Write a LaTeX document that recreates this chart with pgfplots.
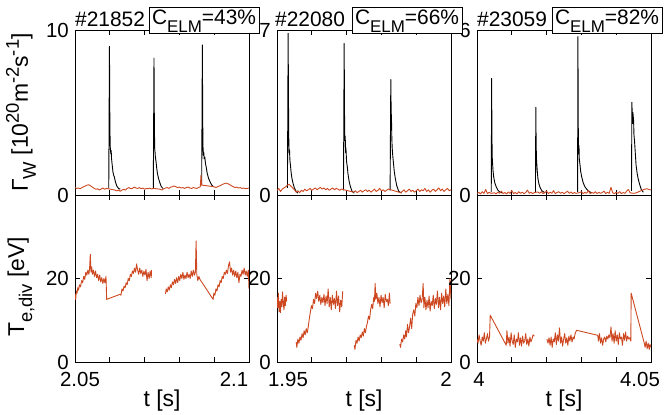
\documentclass[border=0pt]{standalone}
\usepackage{fontspec}
\setmainfont{Liberation Sans}
\usepackage{pgfplots}
\pgfplotsset{compat=1.18}
\definecolor{tered}{RGB}{205,72,32}
\newcommand{\sub}[1]{\raisebox{-8bp}{\fontsize{18.5}{18.5}\selectfont #1}}
\newcommand{\subb}[1]{\raisebox{-8bp}{\fontsize{17}{17}\selectfont #1}}
\newcommand{\sups}[1]{\raisebox{9bp}{\fontsize{18.5}{18.5}\selectfont #1}}
\pgfplotsset{
  myax/.style={scale only axis, width=174bp, anchor=south west,
    axis line style={line width=0.8bp},
    every tick/.style={black, line width=0.8bp},
    major tick length=5bp,
    /pgf/number format/assume math mode=true,
    tick label style={font=\fontsize{20.5}{22}\selectfont},
    yticklabel style={inner sep=0pt, xshift=-6bp},
    label style={font=\fontsize{23}{25}\selectfont},
    ymin=0},
  topax/.style={myax, height=165bp, xticklabels={}},
  botax/.style={myax, height=167bp, ymax=40, ytick={0,20},
    xticklabel style={inner sep=0pt, yshift=-10bp},
    xlabel={t [s]}, xlabel style={at={(axis description cs:0.5,0)}, anchor=center, yshift=-39bp}},
  blk/.style={black, line width=0.9bp, mark=none, line join=round},
  trd/.style={tered, line width=0.9bp, mark=none, line join=round},
}
\begin{document}
\begin{tikzpicture}[font=\fontsize{21}{23}\selectfont]
\path[use as bounding box] (0,0) rectangle (667bp,415bp);
% ---------------- Panel 1 top
\begin{axis}[topax, at={(75bp,220bp)}, xmin=2.05, xmax=2.1, ymax=10, ytick={0,10},
  xtick={2.05,2.06,2.07,2.08,2.09,2.1},
  ylabel={Γ\sub{W} [10\sups{20}m\sups{-2}s\sups{-1}]},
  ylabel style={at={(axis description cs:-0.31,0.5)}, anchor=center}]
\addplot[blk] coordinates {(2.0597,0.40)(2.0599,9.0)(2.0600,5.0)(2.0601,3.0)(2.0602,2.7)(2.0603,2.5)(2.0604,2.7)(2.0605,2.2)(2.0607,1.8)(2.0609,1.4)(2.0611,1.2)(2.0613,1.1)(2.0616,0.8)(2.0620,0.55)(2.0625,0.40)(2.0630,0.35)};
\addplot[blk] coordinates {(2.0725,0.40)(2.0727,8.3)(2.0728,4.5)(2.0729,2.8)(2.0730,2.6)(2.0731,2.3)(2.0733,2.0)(2.0735,1.6)(2.0737,1.3)(2.0740,1.0)(2.0743,0.8)(2.0747,0.55)(2.0752,0.40)};
\addplot[blk] coordinates {(2.0864,0.6)(2.0866,9.1)(2.0867,4.5)(2.0868,2.8)(2.0869,2.4)(2.0870,2.6)(2.0871,2.2)(2.0873,2.3)(2.0875,1.9)(2.0877,1.7)(2.0880,1.3)(2.0884,1.0)(2.0888,0.8)(2.0893,0.6)(2.0898,0.5)};
\addplot[trd] coordinates {(2.0500,0.45)(2.0505,0.40)(2.0510,0.42)(2.0515,0.38)(2.0520,0.45)(2.0525,0.50)(2.0530,0.55)(2.0535,0.60)(2.0540,0.62)(2.0545,0.55)(2.0550,0.48)(2.0555,0.40)(2.0560,0.35)(2.0565,0.38)(2.0570,0.30)(2.0575,0.36)(2.0580,0.42)(2.0585,0.35)(2.0590,0.40)(2.0595,0.38)
(2.0615,0.30)(2.0620,0.25)(2.0625,0.30)(2.0630,0.22)(2.0635,0.30)(2.0640,0.35)(2.0645,0.30)(2.0650,0.40)(2.0655,0.45)(2.0660,0.38)(2.0665,0.40)(2.0670,0.48)(2.0675,0.42)(2.0680,0.40)(2.0685,0.45)(2.0690,0.38)(2.0695,0.42)(2.0700,0.35)(2.0705,0.40)(2.0710,0.38)(2.0715,0.42)(2.0720,0.36)(2.0725,0.40)
(2.0745,0.35)(2.0750,0.30)(2.0755,0.38)(2.0760,0.42)(2.0765,0.45)(2.0770,0.40)(2.0775,0.48)(2.0780,0.50)(2.0785,0.55)(2.0790,0.50)(2.0795,0.45)(2.0800,0.48)(2.0805,0.42)(2.0810,0.45)(2.0815,0.40)(2.0820,0.45)(2.0825,0.48)(2.0830,0.42)(2.0835,0.40)(2.0840,0.45)(2.0845,0.42)(2.0850,0.40)(2.0855,0.45)(2.0860,0.50)(2.0862,1.2)(2.0864,0.6)
(2.0900,0.50)(2.0905,0.45)(2.0910,0.50)(2.0915,0.55)(2.0920,0.60)(2.0925,0.65)(2.0930,0.70)(2.0935,0.72)(2.0940,0.68)(2.0945,0.62)(2.0950,0.55)(2.0955,0.50)(2.0960,0.45)(2.0965,0.48)(2.0970,0.42)(2.0975,0.45)(2.0980,0.40)(2.0985,0.42)(2.0990,0.38)(2.0995,0.40)(2.1000,0.42)};
\end{axis}
% ---------------- Panel 1 bottom
\begin{axis}[botax, at={(75bp,53bp)}, xmin=2.05, xmax=2.1,
  xtick={2.05,2.06,2.07,2.08,2.09,2.1}, xticklabels={\hspace*{10bp}2.05,{},{},{},{},2.1\hspace*{30bp}},
  ylabel={T\sub{e,div} [eV]},
  ylabel style={at={(axis description cs:-0.31,0.45)}, anchor=center}]
\addplot[trd] coordinates {(2.0500,16.2)(2.0502,15.0)(2.0504,17.0)(2.0506,16.5)(2.0508,17.8)(2.0510,17.2)(2.0513,18.5)(2.0516,18.0)(2.0519,19.5)(2.0522,19.0)(2.0525,20.5)(2.0528,19.8)(2.0531,21.5)(2.0534,20.8)(2.0537,22.0)(2.0540,21.0)(2.0542,22.5)(2.0544,25.8)(2.0546,21.5)(2.0548,22.8)(2.0550,21.0)(2.0553,22.0)(2.0556,20.5)(2.0559,21.8)(2.0562,20.2)(2.0565,21.0)(2.0568,19.5)(2.0571,20.8)(2.0574,19.2)(2.0577,20.2)(2.0580,18.8)(2.0583,20.0)(2.0586,19.0)(2.0589,20.5)(2.0591,15.0)
(2.0629,16.2)(2.0632,16.0)(2.0635,17.5)(2.0638,17.0)(2.0641,18.2)(2.0644,17.8)(2.0647,19.0)(2.0650,18.5)(2.0653,20.0)(2.0656,19.5)(2.0659,21.0)(2.0662,20.5)(2.0665,21.8)(2.0668,21.2)(2.0671,22.5)(2.0674,21.5)(2.0677,23.5)(2.0680,22.0)(2.0683,21.0)(2.0686,22.5)(2.0689,21.2)(2.0692,22.0)(2.0695,20.5)(2.0698,21.8)(2.0701,20.8)(2.0704,22.2)(2.0707,19.5)(2.0710,21.5)(2.0713,20.0)(2.0716,21.8)(2.0719,20.2)(2.0720,22.0)};
\addplot[trd] coordinates {(2.0760,16.3)(2.0762,17.5)(2.0765,16.8)(2.0768,18.0)(2.0771,17.2)(2.0774,18.5)(2.0777,17.8)(2.0780,19.2)(2.0783,18.5)(2.0786,19.8)(2.0789,18.8)(2.0792,20.2)(2.0795,19.0)(2.0798,20.5)(2.0801,19.5)(2.0804,21.0)(2.0807,20.0)(2.0810,21.5)(2.0813,19.8)(2.0816,20.8)(2.0819,20.0)(2.0822,21.5)(2.0825,20.2)(2.0828,21.0)(2.0831,20.0)(2.0834,21.8)(2.0837,20.5)(2.0840,22.0)(2.0843,20.8)(2.0846,21.5)(2.0848,29.0)(2.0850,21.0)(2.0853,19.5)(2.0856,20.5)(2.0859,19.8)
(2.0897,15.0)(2.0899,16.5)(2.0902,16.0)(2.0905,17.5)(2.0908,17.0)(2.0911,18.5)(2.0914,18.0)(2.0917,19.5)(2.0920,19.0)(2.0923,20.5)(2.0926,20.0)(2.0929,21.5)(2.0932,21.0)(2.0935,22.0)(2.0938,21.2)(2.0941,23.0)(2.0944,24.0)(2.0947,21.5)(2.0950,22.5)(2.0953,20.8)(2.0956,22.0)(2.0959,20.5)(2.0962,21.8)(2.0965,20.2)(2.0968,21.5)(2.0971,19.0)(2.0974,21.0)(2.0977,20.5)(2.0980,22.0)(2.0983,21.0)(2.0986,22.5)(2.0989,20.8)(2.0992,21.8)(2.0995,20.5)(2.0998,22.0)(2.1000,17.5)};
\end{axis}
% ---------------- Panel 2 top
\begin{axis}[topax, at={(277bp,220bp)}, xmin=1.95, xmax=2.0, ymax=7, ytick={0,7},
  xtick={1.95,1.96,1.97,1.98,1.99,2.0}]
\addplot[blk] coordinates {(1.9530,0.3)(1.9532,6.86)(1.9533,4.0)(1.9534,2.2)(1.9535,1.8)(1.9536,1.9)(1.9537,1.5)(1.9539,1.2)(1.9541,0.9)(1.9543,0.7)(1.9546,0.5)(1.9550,0.3)(1.9555,0.15)(1.9560,0.08)};
\addplot[blk] coordinates {(1.9691,0.2)(1.9693,6.43)(1.9694,3.5)(1.9695,2.3)(1.9696,2.5)(1.9697,1.8)(1.9698,2.0)(1.9700,1.4)(1.9702,1.2)(1.9704,0.9)(1.9707,0.6)(1.9711,0.35)(1.9716,0.15)(1.9722,0.08)};
\addplot[blk] coordinates {(1.9825,0.2)(1.9827,4.9)(1.9828,3.6)(1.9829,3.2)(1.9830,2.4)(1.9831,2.0)(1.9833,1.6)(1.9835,1.3)(1.9837,1.0)(1.9840,0.7)(1.9844,0.4)(1.9850,0.15)(1.9858,0.08)};
\addplot[trd] coordinates {(1.9500,0.20)(1.9505,0.28)(1.9510,0.15)(1.9515,0.25)(1.9520,0.30)(1.9525,0.35)(1.9530,0.42)(1.9535,0.45)(1.9540,0.38)(1.9545,0.30)(1.9550,0.22)(1.9555,0.12)(1.9560,0.18)(1.9565,0.10)(1.9570,0.20)(1.9575,0.15)(1.9580,0.25)(1.9585,0.18)(1.9590,0.22)(1.9595,0.28)(1.9600,0.20)(1.9605,0.25)(1.9610,0.30)(1.9615,0.22)(1.9620,0.28)(1.9625,0.32)(1.9630,0.25)(1.9635,0.30)(1.9640,0.22)(1.9645,0.28)(1.9650,0.20)(1.9655,0.25)(1.9660,0.30)(1.9665,0.22)(1.9670,0.28)(1.9675,0.25)(1.9680,0.20)(1.9685,0.25)
(1.9720,0.12)(1.9725,0.18)(1.9730,0.10)(1.9735,0.15)(1.9740,0.20)(1.9745,0.12)(1.9750,0.18)(1.9755,0.22)(1.9760,0.15)(1.9765,0.20)(1.9770,0.12)(1.9775,0.18)(1.9780,0.25)(1.9785,0.15)(1.9790,0.20)(1.9795,0.28)(1.9800,0.18)(1.9805,0.22)(1.9810,0.15)(1.9815,0.20)(1.9820,0.25)
(1.9855,0.10)(1.9860,0.15)(1.9865,0.22)(1.9870,0.12)(1.9875,0.18)(1.9880,0.25)(1.9885,0.15)(1.9890,0.20)(1.9895,0.12)(1.9900,0.18)(1.9905,0.25)(1.9910,0.15)(1.9915,0.22)(1.9920,0.18)(1.9925,0.28)(1.9930,0.15)(1.9935,0.22)(1.9940,0.12)(1.9945,0.20)(1.9950,0.25)(1.9955,0.15)(1.9960,0.22)(1.9965,0.30)(1.9970,0.18)(1.9975,0.25)(1.9980,0.15)(1.9985,0.22)(1.9990,0.28)(1.9995,0.18)(2.0000,0.22)};
\end{axis}
% ---------------- Panel 2 bottom
\begin{axis}[botax, at={(277bp,53bp)}, xmin=1.95, xmax=2.0,
  xtick={1.95,1.96,1.97,1.98,1.99,2.0}, xticklabels={\hspace*{22bp}1.95,{},{},{},{},2\hspace*{10bp}}]
\addplot[trd] coordinates {(1.9500,15.5)(1.9502,13.0)(1.9504,16.5)(1.9506,12.0)(1.9508,14.5)(1.9510,11.8)(1.9512,15.0)(1.9514,13.2)(1.9516,16.8)(1.9518,14.0)(1.9520,12.5)(1.9522,15.5)(1.9524,13.5)(1.9526,16.0)(1.9528,14.5)};
\addplot[trd] coordinates {(1.9555,4.8)(1.9557,3.5)(1.9560,5.5)(1.9563,4.5)(1.9566,6.0)(1.9569,5.2)(1.9572,6.8)(1.9575,5.8)(1.9578,7.5)(1.9581,6.5)(1.9584,8.0)(1.9587,7.0)(1.9590,8.5)(1.9593,10.5)(1.9596,12.0)(1.9599,13.5)(1.9602,12.8)(1.9605,15.0)(1.9608,14.0)(1.9611,16.5)(1.9614,15.2)(1.9617,17.0)(1.9620,14.5)(1.9623,16.0)(1.9626,13.8)(1.9629,15.5)(1.9632,14.2)(1.9635,16.2)(1.9638,13.5)(1.9641,15.8)(1.9644,14.0)(1.9647,17.5)(1.9650,13.2)(1.9653,15.5)(1.9656,12.5)(1.9659,16.0)(1.9662,13.8)(1.9665,15.2)(1.9668,12.8)(1.9671,17.0)(1.9674,13.5)(1.9677,15.8)(1.9680,12.0)(1.9683,14.8)(1.9686,13.2)(1.9689,17.0)};
\addplot[trd] coordinates {(1.9722,4.0)(1.9724,3.0)(1.9727,5.2)(1.9730,4.5)(1.9733,6.0)(1.9736,5.0)(1.9739,6.5)(1.9742,5.8)(1.9745,7.2)(1.9748,6.2)(1.9751,8.0)(1.9754,7.0)(1.9757,8.5)(1.9760,9.5)(1.9763,11.0)(1.9766,10.2)(1.9769,12.5)(1.9772,13.8)(1.9775,12.8)(1.9778,15.5)(1.9780,14.5)(1.9782,18.8)(1.9784,15.0)(1.9787,16.5)(1.9790,14.0)(1.9793,15.5)(1.9796,13.2)(1.9799,16.0)(1.9802,14.2)(1.9805,15.5)(1.9808,13.0)(1.9811,16.2)(1.9814,14.5)(1.9817,15.0)(1.9820,13.5)(1.9823,16.5)(1.9825,14.0)};
\addplot[trd] coordinates {(1.9853,4.3)(1.9855,3.5)(1.9858,5.5)(1.9861,4.8)(1.9864,6.5)(1.9867,5.5)(1.9870,7.5)(1.9872,6.0)(1.9875,9.0)(1.9878,7.0)(1.9881,8.5)(1.9884,10.5)(1.9887,8.0)(1.9890,11.5)(1.9893,12.5)(1.9896,11.0)(1.9899,14.0)(1.9902,13.0)(1.9905,15.5)(1.9908,13.5)(1.9911,16.0)(1.9914,14.2)(1.9917,15.0)(1.9920,18.8)(1.9922,13.0)(1.9925,15.5)(1.9928,12.5)(1.9931,14.8)(1.9934,13.0)(1.9937,15.8)(1.9940,12.2)(1.9943,14.5)(1.9946,13.5)(1.9949,16.0)(1.9952,12.8)(1.9955,15.2)(1.9958,13.8)(1.9961,17.0)(1.9964,13.0)(1.9967,15.5)(1.9970,12.5)(1.9973,16.5)(1.9976,14.0)(1.9979,15.8)(1.9982,13.2)(1.9985,17.5)(1.9988,14.0)(1.9991,16.2)(1.9994,13.5)(1.9997,20.0)(2.0000,15.0)};
\end{axis}
% ---------------- Panel 3 top
\begin{axis}[topax, at={(477bp,220bp)}, xmin=4.0, xmax=4.05, ymax=6, ytick={0,6},
  xtick={4.0,4.01,4.02,4.03,4.04,4.05}]
\addplot[blk] coordinates {(4.0041,0.1)(4.0042,4.24)(4.0043,2.0)(4.0044,1.3)(4.0046,0.9)(4.0048,0.65)(4.0051,0.45)(4.0055,0.3)(4.0060,0.18)(4.0066,0.1)(4.0072,0.08)};
\addplot[blk] coordinates {(4.0168,0.1)(4.0169,3.19)(4.0170,1.8)(4.0171,1.3)(4.0173,0.9)(4.0175,0.6)(4.0178,0.4)(4.0182,0.25)(4.0187,0.15)(4.0195,0.08)};
\addplot[blk] coordinates {(4.0289,0.1)(4.0290,5.76)(4.0291,2.5)(4.0292,1.5)(4.0293,1.8)(4.0294,1.3)(4.0296,1.1)(4.0298,0.85)(4.0301,0.65)(4.0305,0.45)(4.0310,0.3)(4.0316,0.2)(4.0323,0.12)(4.0330,0.08)};
\addplot[blk] coordinates {(4.0444,0.15)(4.0445,3.37)(4.0447,2.6)(4.0448,3.0)(4.0450,2.7)(4.0451,2.2)(4.0453,1.9)(4.0455,1.5)(4.0457,1.1)(4.0460,0.8)(4.0463,0.6)(4.0467,0.4)(4.0472,0.2)(4.0478,0.1)};
\addplot[trd] coordinates {(4.0000,0.06)(4.0005,0.10)(4.0010,0.04)(4.0015,0.12)(4.0020,0.06)(4.0025,0.20)(4.0030,0.05)(4.0035,0.10)(4.0040,0.06)(4.0050,0.08)(4.0055,0.04)(4.0060,0.10)(4.0065,0.06)(4.0070,0.14)(4.0075,0.05)(4.0080,0.09)(4.0085,0.04)(4.0090,0.11)(4.0095,0.06)(4.0100,0.16)(4.0105,0.05)(4.0110,0.09)(4.0115,0.04)(4.0120,0.12)(4.0125,0.06)(4.0130,0.10)(4.0135,0.05)(4.0140,0.09)(4.0145,0.18)(4.0150,0.06)(4.0155,0.10)(4.0160,0.05)(4.0165,0.09)(4.0175,0.11)(4.0180,0.06)(4.0185,0.12)(4.0190,0.05)(4.0195,0.09)(4.0200,0.14)(4.0205,0.05)(4.0210,0.10)(4.0215,0.06)(4.0220,0.16)(4.0225,0.05)(4.0230,0.09)(4.0235,0.12)(4.0240,0.06)(4.0245,0.10)(4.0250,0.05)(4.0255,0.09)(4.0260,0.14)(4.0265,0.06)(4.0270,0.11)(4.0275,0.05)(4.0280,0.09)(4.0285,0.06)(4.0295,0.09)(4.0300,0.12)(4.0305,0.05)(4.0310,0.10)(4.0315,0.06)(4.0320,0.16)(4.0325,0.05)(4.0330,0.09)(4.0335,0.06)(4.0340,0.12)(4.0345,0.05)(4.0350,0.10)(4.0355,0.06)(4.0360,0.09)(4.0365,0.14)(4.0370,0.05)(4.0375,0.10)(4.0380,0.06)(4.0385,0.28)(4.0390,0.08)(4.0395,0.05)(4.0400,0.10)(4.0405,0.06)(4.0410,0.12)(4.0415,0.05)(4.0420,0.09)(4.0425,0.06)(4.0430,0.14)(4.0435,0.20)(4.0440,0.08)(4.0450,0.06)(4.0455,0.07)(4.0460,0.09)(4.0465,0.12)(4.0470,0.15)(4.0475,0.18)(4.0480,0.20)(4.0485,0.22)(4.0490,0.22)(4.0495,0.20)(4.0500,0.18)};
\end{axis}
% ---------------- Panel 3 bottom
\begin{axis}[botax, at={(477bp,53bp)}, xmin=4.0, xmax=4.05,
  xtick={4.0,4.01,4.02,4.03,4.04,4.05}, xticklabels={\hspace*{4bp}4,{},{},{},{},4.05\hspace*{22bp}}]
\addplot[trd] coordinates {(4.0000,5.5)(4.0003,4.5)(4.0006,6.5)(4.0009,5.0)(4.0012,4.0)(4.0015,6.0)(4.0018,5.0)(4.0021,7.0)(4.0024,4.5)(4.0027,5.5)(4.0030,6.8)(4.0033,5.0)(4.0036,6.0)(4.0038,11.2)(4.0084,4.0)(4.0086,7.5)(4.0089,4.5)(4.0092,6.0)(4.0095,3.8)(4.0098,7.0)(4.0101,5.0)(4.0104,4.2)(4.0107,6.5)(4.0110,3.5)(4.0113,5.5)(4.0116,4.8)(4.0119,7.0)(4.0122,4.0)(4.0125,5.8)(4.0128,3.8)(4.0131,6.2)(4.0134,4.5)(4.0137,5.0)(4.0140,6.8)(4.0143,4.2)(4.0146,5.5)(4.0149,3.8)(4.0152,6.0)(4.0155,4.8)(4.0158,5.5)(4.0161,6.5)(4.0165,6.2)};
\addplot[trd] coordinates {(4.0201,5.5)(4.0204,4.5)(4.0207,5.8)(4.0210,4.0)(4.0213,6.0)(4.0216,3.5)(4.0219,5.5)(4.0222,4.8)(4.0225,7.0)(4.0228,4.2)(4.0231,6.5)(4.0234,5.0)(4.0237,8.2)(4.0240,4.5)(4.0243,6.0)(4.0246,3.8)(4.0249,5.5)(4.0252,6.8)(4.0255,4.5)(4.0258,5.8)(4.0261,4.0)(4.0264,6.2)(4.0267,5.0)(4.0270,6.5)(4.0273,4.8)(4.0276,6.0)(4.0279,5.5)(4.0282,6.8)(4.0286,7.6)(4.0347,6.4)(4.0349,5.0)(4.0352,6.8)(4.0355,4.5)(4.0358,5.8)(4.0361,4.0)(4.0364,5.5)(4.0367,6.0)(4.0370,4.8)(4.0373,6.2)(4.0376,5.5)(4.0379,6.5)(4.0382,5.8)(4.0385,8.4)(4.0388,5.0)(4.0391,6.8)(4.0394,4.5)(4.0397,7.5)(4.0400,5.0)(4.0403,6.5)(4.0406,4.2)(4.0409,7.0)(4.0412,5.5)(4.0415,6.0)(4.0418,4.0)(4.0421,6.8)(4.0424,5.2)(4.0427,7.2)(4.0430,5.0)(4.0433,6.2)(4.0436,5.5)(4.0439,5.8)(4.0442,5.0)(4.0443,16.5)(4.0481,4.4)(4.0483,3.5)(4.0486,5.0)(4.0489,3.2)(4.0492,4.5)(4.0495,3.0)(4.0497,4.2)(4.0500,3.5)};
\end{axis}
% ---------------- titles and boxes
\node[anchor=base west, inner sep=0] at (75bp,388bp) {\#21852};
\node[anchor=base west, draw, fill=white, line width=0.8bp, inner xsep=3bp, inner ysep=0, text height=17bp, text depth=9bp, outer sep=0] at (149bp,390.5bp) {C\subb{ELM}=43\%};
\node[anchor=base west, inner sep=0] at (275bp,388bp) {\#22080};
\node[anchor=base west, draw, fill=white, line width=0.8bp, inner xsep=3bp, inner ysep=0, text height=17bp, text depth=9bp, outer sep=0] at (352bp,390.5bp) {C\subb{ELM}=66\%};
\node[anchor=base west, inner sep=0] at (477bp,388bp) {\#23059};
\node[anchor=base west, draw, fill=white, line width=0.8bp, inner xsep=3bp, inner ysep=0, text height=17bp, text depth=9bp, outer sep=0] at (552bp,390.5bp) {C\subb{ELM}=82\%};
\end{tikzpicture}
\end{document}
